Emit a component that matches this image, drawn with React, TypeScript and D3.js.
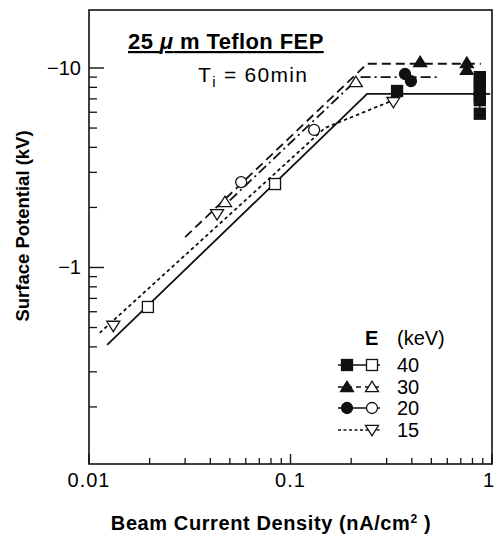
import React from "react";
import * as d3 from "d3";

type P = { x: number; y: number };

// Surface potential magnitude (kV, plotted as negative) vs beam current density (nA/cm2)
const line40: P[] = [{ x: 0.0123, y: 0.409 }, { x: 0.24, y: 7.41 }, { x: 0.98, y: 7.41 }];
const open40: P[] = [{ x: 0.0196, y: 0.634 }, { x: 0.0838, y: 2.62 }];
const filled40: P[] = [
  { x: 0.338, y: 7.67 }, { x: 0.87, y: 9.0 }, { x: 0.87, y: 8.4 }, { x: 0.87, y: 7.8 },
  { x: 0.87, y: 7.2 }, { x: 0.87, y: 6.9 }, { x: 0.87, y: 5.9 },
];
const line30: P[] = [{ x: 0.03, y: 1.42 }, { x: 0.24, y: 10.5 }, { x: 0.88, y: 10.5 }];
const open30: P[] = [{ x: 0.0473, y: 2.13 }, { x: 0.211, y: 8.5 }];
const filled30: P[] = [{ x: 0.44, y: 10.7 }, { x: 0.75, y: 10.6 }, { x: 0.75, y: 9.8 }];
const line20: P[] = [{ x: 0.05, y: 2.17 }, { x: 0.22, y: 9.0 }, { x: 0.54, y: 9.0 }];
const open20: P[] = [{ x: 0.0569, y: 2.68 }, { x: 0.131, y: 4.89 }];
const filled20: P[] = [{ x: 0.37, y: 9.33 }, { x: 0.396, y: 8.6 }];
const line15: P[] = [{ x: 0.0113, y: 0.47 }, { x: 0.148, y: 5.0 }, { x: 0.324, y: 6.9 }];
const open15: P[] = [{ x: 0.0132, y: 0.51 }, { x: 0.0432, y: 1.85 }, { x: 0.324, y: 6.75 }];

const xMajor = [0.01, 0.1, 1];
const xMajorLabels = ["0.01", "0.1", "1"];
const yMajor = [10, 1];
const yMajorLabels = ["\u221210", "\u22121"];
const legendLabels = ["40", "30", "20", "15"];

const W = 496, H = 537;
const L = 89, R = 492, T = 10, B = 464;
const FONT = "'Liberation Sans', Arial, Helvetica, sans-serif";

export default function App() {
  const x = d3.scaleLog().domain([0.01, 1]).range([L, R]);
  const y = d3.scaleLog().domain([0.1035, 19.53]).range([B, T]);
  const line = d3.line<P>().x((d) => x(d.x)).y((d) => y(d.y));

  const xMinor: number[] = [];
  [0.01, 0.1].forEach((b) => { for (let k = 2; k <= 9; k++) xMinor.push(b * k); });
  const yMinor: number[] = [];
  [0.1, 1].forEach((b) => { for (let k = 2; k <= 9; k++) yMinor.push(b * k); });

  const sq = (cx: number, cy: number, filled: boolean, key: string) => (
    <rect key={key} x={cx - 5.5} y={cy - 5.5} width={11} height={11}
      fill={filled ? "#111" : "#fff"} stroke="#111" strokeWidth={1.3} />
  );
  const tri = (cx: number, cy: number, filled: boolean, key: string, down = false) => {
    const s = 6.5;
    const pts = down
      ? `${cx - s},${cy - s * 0.7} ${cx + s},${cy - s * 0.7} ${cx},${cy + s * 0.9}`
      : `${cx - s},${cy + s * 0.7} ${cx + s},${cy + s * 0.7} ${cx},${cy - s * 0.9}`;
    return <polygon key={key} points={pts} fill={filled ? "#111" : "#fff"} stroke="#111" strokeWidth={1.3} />;
  };
  const circ = (cx: number, cy: number, filled: boolean, key: string) => (
    <circle key={key} cx={cx} cy={cy} r={5.5} fill={filled ? "#111" : "#fff"} stroke="#111" strokeWidth={1.3} />
  );

  const styles = [
    { dash: undefined as string | undefined, mk: sq },
    { dash: "5,4", mk: tri },
    { dash: undefined as string | undefined, mk: circ },
    { dash: "3,2.5", mk: null as any },
  ];
  const legY = [365, 387, 408, 430];

  return (
    <svg width={W} height={H} style={{ position: "absolute", left: 0, top: 0, background: "#fff" }}>
      <rect x={0} y={0} width={W} height={H} fill="#fff" />
      {/* frame */}
      <rect x={L} y={T} width={R - L} height={B - T} fill="none" stroke="#111" strokeWidth={1.6} />
      {/* x ticks */}
      {xMajor.map((v, i) => (
        <g key={"xm" + i}>
          <line x1={x(v)} x2={x(v)} y1={B} y2={B - 10} stroke="#111" strokeWidth={1.4} />
          <text x={i === 2 ? 495 : x(v)} y={487} fontSize={20} fontFamily={FONT}
            textAnchor={i === 2 ? "end" : "middle"} letterSpacing={1}>
            {xMajorLabels[i]}
          </text>
        </g>
      ))}
      {xMinor.map((v, i) => (
        <line key={"xn" + i} x1={x(v)} x2={x(v)} y1={B} y2={B - 6} stroke="#111" strokeWidth={1.3} />
      ))}
      {/* y ticks */}
      {yMajor.map((v, i) => (
        <g key={"ym" + i}>
          <line x1={L} x2={L + 15} y1={y(v)} y2={y(v)} stroke="#111" strokeWidth={1.4} />
          <text x={81} y={y(v) + 7} fontSize={20} fontFamily={FONT} textAnchor="end">
            {yMajorLabels[i]}
          </text>
        </g>
      ))}
      {yMinor.map((v, i) => (
        <line key={"yn" + i} x1={L} x2={L + 8} y1={y(v)} y2={y(v)} stroke="#111" strokeWidth={1.3} />
      ))}

      {/* lines */}
      <path d={line(line40) || ""} fill="none" stroke="#111" strokeWidth={1.8} />
      <path d={line(line30) || ""} fill="none" stroke="#111" strokeWidth={1.8} strokeDasharray="9,5" />
      <path d={line(line20) || ""} fill="none" stroke="#111" strokeWidth={1.8} strokeDasharray="10,4,2,4" />
      <path d={line(line15) || ""} fill="none" stroke="#111" strokeWidth={1.8} strokeDasharray="3.5,3" />
      {/* vertical spread of 40 keV points at high density */}
      <line x1={x(filled40[1].x)} x2={x(filled40[1].x)} y1={y(d3.max(filled40.slice(1), (d) => d.y) as number)}
        y2={y(d3.min(filled40.slice(1), (d) => d.y) as number)} stroke="#111" strokeWidth={1.5} />

      {/* markers */}
      {open40.map((d, i) => sq(x(d.x), y(d.y), false, "o40" + i))}
      {filled40.map((d, i) => sq(x(d.x), y(d.y), true, "f40" + i))}
      {open30.map((d, i) => tri(x(d.x), y(d.y), false, "o30" + i))}
      {filled30.map((d, i) => tri(x(d.x), y(d.y), true, "f30" + i))}
      {open20.map((d, i) => circ(x(d.x), y(d.y), false, "o20" + i))}
      {filled20.map((d, i) => circ(x(d.x), y(d.y), true, "f20" + i))}
      {open15.map((d, i) => tri(x(d.x), y(d.y), false, "o15" + i, true))}

      {/* title */}
      <text x={128} y={49} fontSize={22} fontWeight="bold" fontFamily={FONT} textDecoration="underline" letterSpacing={0.4}>
        25 <tspan fontStyle="italic">μ</tspan> m Teflon FEP
      </text>
      <text x={198} y={82} fontSize={21} fontFamily={FONT} letterSpacing={1.3}>
        T<tspan dy={5} fontSize={15}>i</tspan><tspan dy={-5}> = 60min</tspan>
      </text>

      {/* legend */}
      <text x={365} y={345} fontSize={20} fontFamily={FONT}>
        <tspan fontWeight="bold">E</tspan><tspan x={397}>(keV)</tspan>
      </text>
      {legendLabels.map((lab, i) => {
        const st = styles[i];
        const yy = legY[i];
        return (
          <g key={"lg" + i}>
            <line x1={338} x2={380} y1={yy} y2={yy} stroke="#111" strokeWidth={1.6}
              strokeDasharray={st.dash} />
            {st.mk ? st.mk(347, yy, true, "lf" + i) : null}
            {st.mk ? st.mk(372, yy, false, "lo" + i) : tri(372, yy, false, "lo" + i, true)}
            <text x={397} y={yy + 7} fontSize={20} fontFamily={FONT}>{lab}</text>
          </g>
        );
      })}

      {/* axis titles */}
      <text x={271} y={530} fontSize={20} fontWeight="bold" fontFamily={FONT} textAnchor="middle" letterSpacing={0.6}>
        Beam Current Density (nA/cm<tspan fontSize={12} dy={-7}>2</tspan><tspan dy={7}> )</tspan>
      </text>
      <text transform="translate(29,226) rotate(-90)" fontSize={18.5} fontWeight="bold" fontFamily={FONT} textAnchor="middle">
        Surface Potential (kV)
      </text>
    </svg>
  );
}
